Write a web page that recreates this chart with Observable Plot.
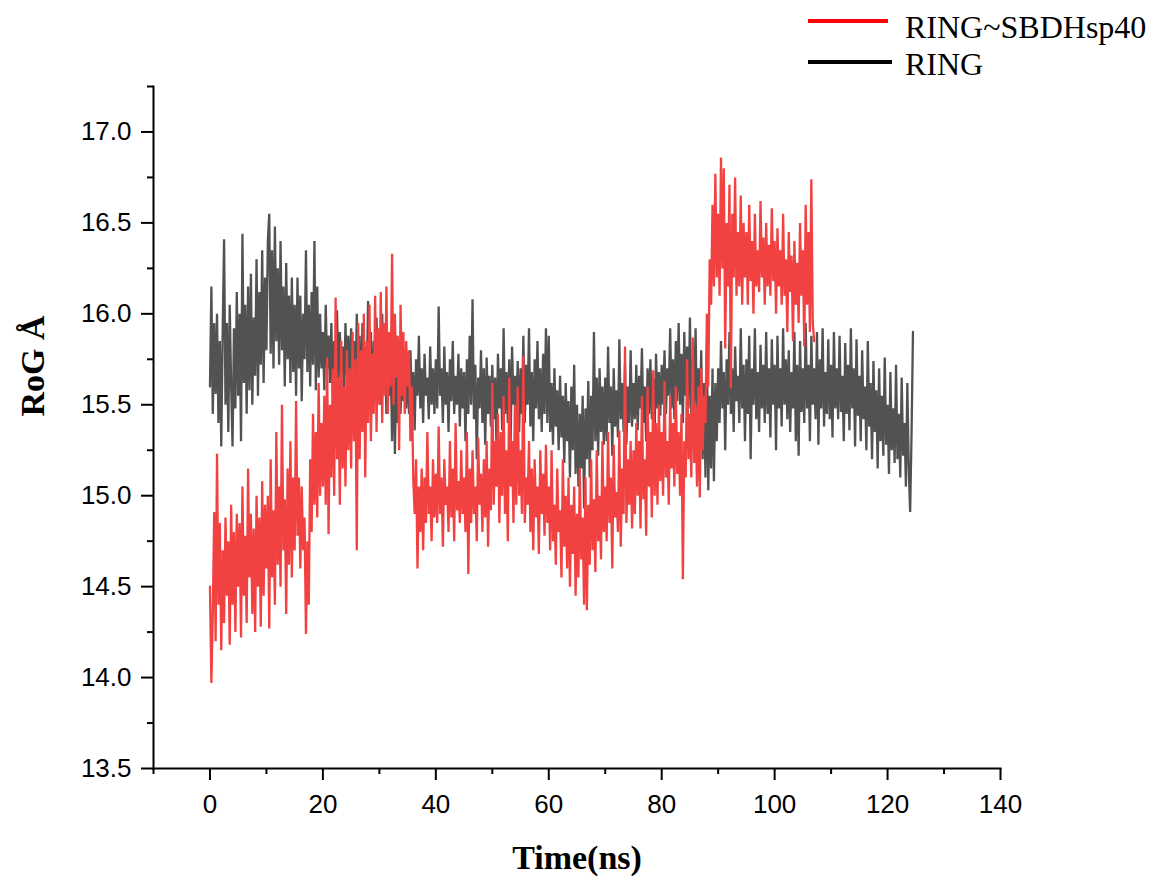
<!DOCTYPE html>
<html>
<head>
<meta charset="utf-8">
<script src="https://cdn.jsdelivr.net/npm/d3@7"></script>
<script src="https://cdn.jsdelivr.net/npm/@observablehq/plot@0.6"></script>
<style>
  html, body { margin: 0; padding: 0; background: #fff; }
  #wrap { position: relative; width: 1151px; height: 878px; }
  #legend { position: absolute; left: 0; top: 0; pointer-events: none; }
</style>
</head>
<body>
<div id="wrap"></div>
<script>
const seriesNames = ["RING~SBDHsp40", "RING"];
const seriesColors = ["#f24141", "#525252"];
const legendColors = ["#ff0000", "#000000"];
const timeStep = 0.25; // ns between samples

const xTicks = [0, 20, 40, 60, 80, 100, 120, 140];
const xMinorTicks = [-10, 10, 30, 50, 70, 90, 110, 130];
const yTicks = [13.5, 14.0, 14.5, 15.0, 15.5, 16.0, 16.5, 17.0];
const yMinorTicks = [13.75, 14.25, 14.75, 15.25, 15.75, 16.25, 16.75, 17.25];

// RING RoG values (Å), one every 0.25 ns from 0 ns (20 per row = 5 ns)
const ringValues = [
  15.60, 16.15, 15.45, 15.95, 15.56, 16.00, 15.40, 15.85, 15.27, 15.90, 16.41, 15.50, 15.95, 15.35, 16.05, 15.60, 15.27, 15.92, 15.48, 16.12,
  15.55, 16.00, 15.30, 16.44, 15.62, 16.05, 15.45, 16.15, 15.58, 16.22, 15.50, 15.98, 15.66, 16.30, 15.55, 16.12, 15.72, 16.35, 15.62, 16.20,
  15.80, 16.40, 16.55, 15.78, 16.35, 15.70, 16.48, 15.85, 16.25, 15.72, 16.40, 15.80, 16.15, 15.60, 16.28, 15.75, 16.10, 15.62, 16.20, 15.68,
  16.05, 15.55, 16.20, 15.70, 16.10, 15.52, 16.00, 15.75, 16.35, 15.68, 16.05, 15.60, 16.12, 15.72, 16.40, 15.58, 16.15, 15.65, 16.00, 15.70,
  15.90, 15.58, 16.05, 15.70, 15.88, 15.62, 15.95, 15.55, 15.85, 15.70, 16.02, 15.60, 15.90, 15.68, 15.82, 15.55, 15.95, 15.66, 15.88, 15.60,
  15.92, 15.62, 15.85, 15.50, 16.00, 15.65, 15.88, 15.45, 15.95, 15.60, 15.82, 15.55, 16.07, 15.62, 15.90, 15.50, 15.85, 15.58, 15.98, 15.52,
  15.85, 15.50, 16.00, 15.60, 15.80, 15.45, 15.88, 15.55, 15.75, 15.30, 15.82, 15.23, 15.70, 15.40, 15.85, 15.45, 15.72, 15.52, 15.80, 15.48,
  15.72, 15.45, 15.80, 15.52, 15.68, 15.36, 15.75, 15.55, 15.88, 15.48, 15.70, 15.40, 15.78, 15.55, 15.65, 15.42, 15.82, 15.50, 15.70, 15.45,
  15.75, 15.48, 16.04, 15.55, 15.70, 15.40, 15.82, 15.50, 15.68, 15.35, 15.75, 15.52, 15.85, 15.45, 15.66, 15.50, 15.78, 15.38, 15.70, 15.48,
  15.68, 15.30, 15.75, 15.45, 15.88, 15.50, 16.08, 15.42, 15.72, 15.20, 15.65, 15.48, 15.80, 15.40, 15.70, 15.28, 15.76, 15.45, 15.66, 15.38,
  15.72, 15.42, 15.65, 15.25, 15.78, 15.48, 15.70, 15.36, 15.92, 15.45, 15.68, 15.40, 15.75, 15.30, 15.82, 15.50, 15.66, 15.42, 15.74, 15.35,
  15.70, 15.45, 15.88, 15.40, 15.72, 15.50, 15.92, 15.38, 15.68, 15.30, 15.75, 15.48, 15.85, 15.42, 15.70, 15.35, 15.78, 15.45, 15.92, 15.40,
  15.88, 15.35, 15.62, 15.28, 15.70, 15.38, 15.58, 15.25, 15.66, 15.32, 15.55, 15.18, 15.62, 15.30, 15.52, 15.10, 15.60, 15.25, 15.72, 15.12,
  15.50, 15.05, 15.45, 15.15, 15.55, 14.93, 15.48, 15.20, 15.63, 15.10, 15.55, 15.25, 15.90, 15.30, 15.65, 15.22, 15.70, 15.35, 15.60, 15.28,
  15.65, 15.30, 15.82, 15.40, 15.60, 15.22, 15.70, 15.38, 15.58, 15.32, 15.86, 15.42, 15.62, 15.35, 15.72, 15.28, 15.60, 15.40, 15.80, 15.38,
  15.62, 15.42, 15.72, 15.36, 15.66, 15.48, 15.81, 15.40, 15.60, 15.30, 15.70, 15.45, 15.75, 15.42, 15.64, 15.35, 15.78, 15.48, 15.68, 15.44,
  15.72, 15.50, 15.80, 15.45, 15.70, 15.55, 15.92, 15.48, 15.75, 15.42, 15.85, 15.52, 15.95, 15.50, 15.78, 15.40, 15.90, 15.55, 15.82, 15.48,
  15.98, 15.45, 15.75, 15.50, 15.92, 15.38, 15.70, 15.42, 15.80, 15.20, 15.62, 15.10, 15.81, 15.03, 15.55, 15.15, 15.70, 15.08, 15.62, 15.30,
  15.70, 15.40, 15.85, 15.48, 15.68, 15.25, 15.75, 15.50, 15.90, 15.45, 15.70, 15.35, 15.82, 15.52, 15.66, 15.40, 15.92, 15.48, 15.72, 15.30,
  15.75, 15.45, 15.88, 15.20, 15.70, 15.50, 15.92, 15.42, 15.68, 15.35, 15.83, 15.48, 15.72, 15.40, 15.90, 15.45, 15.70, 15.32, 15.86, 15.50,
  15.72, 15.25, 15.88, 15.48, 15.70, 15.38, 15.92, 15.50, 15.75, 15.42, 15.80, 15.35, 15.68, 15.48, 15.90, 15.30, 15.72, 15.22, 15.85, 15.46,
  15.70, 15.40, 15.95, 15.48, 15.72, 15.30, 15.88, 15.50, 15.70, 15.42, 15.90, 15.28, 15.75, 15.48, 15.92, 15.38, 15.68, 15.45, 15.86, 15.42,
  15.72, 15.32, 15.90, 15.48, 15.70, 15.42, 15.88, 15.46, 15.66, 15.30, 15.84, 15.45, 15.72, 15.36, 15.92, 15.48, 15.70, 15.27, 15.86, 15.44,
  15.66, 15.30, 15.80, 15.42, 15.60, 15.25, 15.85, 15.38, 15.62, 15.20, 15.74, 15.35, 15.58, 15.15, 15.70, 15.30, 15.55, 15.22, 15.76, 15.28,
  15.50, 15.12, 15.68, 15.25, 15.48, 15.18, 15.72, 15.20, 15.45, 15.10, 15.65, 15.22, 15.40, 15.05, 15.62, 15.15, 14.91, 15.35, 15.90
];

// RING~SBDHsp40 RoG values (Å), one every 0.25 ns from 0 ns (20 per row = 5 ns)
const ringSbdValues = [
  14.50, 13.97, 14.35, 14.91, 14.20, 15.23, 14.40, 14.85, 14.15, 14.70, 14.30, 14.88, 14.45, 14.75, 14.18, 14.95, 14.40, 14.80, 14.25, 14.90,
  14.50, 14.85, 14.22, 15.05, 14.45, 14.78, 14.30, 15.15, 14.55, 14.90, 14.35, 14.82, 14.25, 15.00, 14.50, 14.88, 14.28, 15.08, 14.45, 14.95,
  14.60, 15.00, 14.27, 15.20, 14.55, 14.92, 14.40, 15.35, 14.62, 15.05, 14.50, 15.50, 14.70, 14.98, 14.35, 15.15, 14.62, 15.30, 14.55, 15.10,
  14.70, 15.52, 14.78, 15.10, 14.60, 15.05, 14.70, 14.88, 14.24, 14.75, 14.40, 15.20, 14.80, 15.45, 14.95, 15.35, 14.88, 15.62, 15.00, 15.40,
  15.05, 15.55, 14.95, 15.76, 14.79, 15.50, 15.10, 15.70, 15.00, 16.09, 15.20, 15.65, 14.95, 15.85, 15.15, 15.60, 15.05, 15.80, 15.25, 15.70,
  15.15, 15.90, 15.30, 15.75, 14.70, 15.95, 15.20, 15.80, 15.35, 16.00, 15.10, 15.85, 15.40, 16.05, 15.30, 15.78, 15.45, 16.10, 15.35, 15.92,
  15.50, 16.12, 15.40, 15.95, 15.55, 16.15, 15.45, 15.90, 15.60, 16.33, 15.50, 16.00, 15.65, 15.88, 15.25, 16.05, 15.55, 15.90, 15.45, 15.85,
  15.60, 15.80, 15.30, 15.60, 15.10, 14.90, 15.20, 14.60, 15.05, 14.80, 15.15, 14.70, 15.10, 14.85, 15.35, 14.90, 15.05, 14.75, 15.20, 14.88,
  15.12, 14.85, 15.38, 14.90, 15.10, 14.72, 15.20, 14.95, 15.05, 14.80, 15.30, 14.88, 15.15, 14.75, 15.40, 14.92, 15.08, 14.85, 15.25, 14.90,
  15.10, 14.80, 15.35, 14.57, 15.15, 14.85, 15.25, 14.90, 15.05, 14.75, 15.32, 14.95, 15.12, 14.80, 15.20, 14.88, 15.30, 14.72, 15.15, 14.92,
  15.62, 14.95, 15.30, 15.05, 15.45, 14.85, 15.35, 15.00, 15.55, 14.90, 15.25, 14.75, 15.65, 15.05, 15.30, 14.85, 15.50, 14.95, 15.60, 15.00,
  15.25, 14.90, 15.77, 14.85, 15.10, 14.95, 15.30, 14.80, 15.15, 14.70, 15.20, 14.88, 15.05, 14.68, 15.25, 14.90, 15.12, 14.78, 15.28, 14.85,
  15.05, 14.70, 15.25, 14.75, 14.95, 14.62, 15.15, 14.80, 14.92, 14.55, 15.20, 14.72, 15.00, 14.60, 15.10, 14.50, 14.95, 14.68, 15.05, 14.45,
  14.90, 14.55, 15.15, 14.65, 14.88, 14.40, 15.10, 14.37, 14.95, 14.62, 15.20, 14.70, 14.98, 14.58, 15.25, 14.75, 15.00, 14.65, 15.30, 14.80,
  15.05, 14.75, 15.35, 14.85, 15.10, 14.60, 15.28, 14.88, 15.02, 14.80, 15.36, 14.72, 15.15, 14.90, 15.82, 14.85, 15.20, 14.95, 15.30, 14.82,
  15.25, 14.90, 15.40, 15.00, 15.30, 14.82, 15.55, 14.98, 15.20, 14.78, 15.60, 15.05, 15.35, 14.88, 15.69, 15.00, 15.40, 14.95, 15.50, 15.08,
  15.35, 15.00, 15.63, 15.10, 15.30, 14.95, 15.55, 15.15, 15.40, 15.05, 15.60, 15.12, 15.35, 15.00, 15.45, 14.54, 15.30, 15.10, 15.75, 15.20,
  15.45, 15.10, 15.87, 15.18, 15.50, 15.05, 15.60, 14.99, 15.70, 15.25, 15.55, 15.40, 16.00, 15.60, 16.30, 16.05, 16.60, 16.15, 16.77, 16.20,
  16.55, 16.10, 16.86, 16.25, 16.80, 15.81, 16.50, 16.15, 16.71, 15.59, 16.55, 16.20, 16.75, 16.10, 16.45, 16.15, 16.65, 16.05, 16.50, 16.20,
  16.45, 16.05, 16.60, 16.18, 16.40, 16.00, 16.55, 16.15, 16.35, 16.12, 16.62, 16.20, 16.42, 16.05, 16.50, 16.15, 16.38, 16.10, 16.58, 16.18,
  16.40, 16.00, 16.47, 16.15, 16.35, 16.05, 16.55, 16.10, 16.30, 15.90, 16.45, 16.12, 16.32, 15.85, 16.40, 16.05, 16.28, 15.95, 16.50, 16.10,
  16.35, 15.82, 16.60, 16.05, 16.45, 15.90, 16.74, 15.95, 15.85
];

const ring = ringValues.map((v, i) => ({t: i * timeStep, v}));
const ringSbd = ringSbdValues.map((v, i) => ({t: i * timeStep, v}));

const chart = Plot.plot({
  width: 1151,
  height: 878,
  marginLeft: 153,
  marginRight: 151,
  marginTop: 86,
  marginBottom: 110,
  style: {fontFamily: "Liberation Sans, Arial, sans-serif", fontSize: "26px", color: "#000", background: "#fff", overflow: "visible"},
  x: {domain: [-10, 140]},
  y: {domain: [13.5, 17.25]},
  marks: [
    Plot.lineY(ring, {x: "t", y: "v", stroke: seriesColors[1], strokeWidth: 2.3, strokeLinejoin: "miter", strokeMiterlimit: 2}),
    Plot.lineY(ringSbd, {x: "t", y: "v", stroke: seriesColors[0], strokeWidth: 2.3, strokeLinejoin: "miter", strokeMiterlimit: 2}),
    Plot.frame({anchor: "left", stroke: "#000", strokeWidth: 2}),
    Plot.frame({anchor: "bottom", stroke: "#000", strokeWidth: 2}),
    Plot.axisX({ticks: xTicks, tickSize: 12, tickPadding: 14, strokeWidth: 2, label: null, fontSize: 26, tickFormat: d3.format("d")}),
    Plot.axisX({ticks: xMinorTicks, tickSize: 6, strokeWidth: 2, label: null, tickFormat: () => ""}),
    Plot.axisY({ticks: yTicks, tickSize: 12, tickPadding: 10, strokeWidth: 2, label: null, fontSize: 26, tickFormat: d3.format(".1f")}),
    Plot.axisY({ticks: yMinorTicks, tickSize: 6, strokeWidth: 2, label: null, tickFormat: () => ""}),
    Plot.text(["Time(ns)"], {frameAnchor: "bottom", dy: 90, lineAnchor: "middle", fontFamily: "Liberation Serif, Times New Roman, serif", fontWeight: "bold", fontSize: 34}),
    Plot.text(["RoG Å"], {frameAnchor: "left", dx: -120, dy: -11, rotate: -90, lineAnchor: "middle", fontFamily: "Liberation Serif, Times New Roman, serif", fontWeight: "bold", fontSize: 34})
  ]
});

const wrap = document.getElementById("wrap");
wrap.appendChild(chart);

// Legend overlay (lines + labels), top-right as in the original
const leg = d3.select(wrap).append("svg")
  .attr("id", "legend")
  .attr("width", 1151).attr("height", 100);
const legRows = [
  {name: seriesNames[0], color: legendColors[0], lineY: 21, x2: 888, textY: 38},
  {name: seriesNames[1], color: legendColors[1], lineY: 62, x2: 892, textY: 75}
];
legRows.forEach(r => {
  leg.append("line").attr("x1", 808).attr("x2", r.x2).attr("y1", r.lineY).attr("y2", r.lineY)
    .attr("stroke", r.color).attr("stroke-width", 4);
  leg.append("text").attr("x", 905).attr("y", r.textY)
    .attr("font-family", "Liberation Serif, Times New Roman, serif").attr("font-size", 32)
    .attr("fill", "#000").text(r.name);
});
</script>
</body>
</html>
